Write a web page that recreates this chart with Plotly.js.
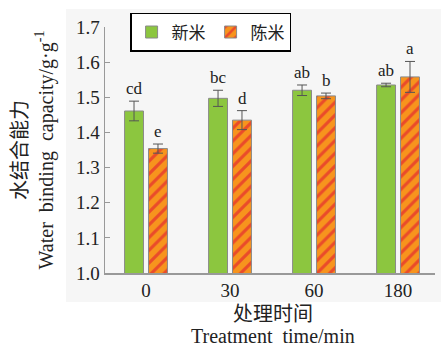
<!DOCTYPE html>
<html>
<head>
<meta charset="utf-8">
<script src="https://cdn.plot.ly/plotly-3.0.1.min.js"></script>
<style>html,body{margin:0;padding:0;background:#fff;}#chart{width:441px;height:348px;}</style>
</head>
<body>
<div id="chart"></div>
<script>
const categories = ['0', '30', '60', '180'];
const seriesNames = ['新米', '陈米'];
const freshValues = [1.461, 1.497, 1.520, 1.535];
const freshErrors = [0.028, 0.023, 0.015, 0.005];
const agedValues = [1.354, 1.435, 1.504, 1.558];
const agedErrors = [0.013, 0.027, 0.008, 0.044];
const freshLetters = ['cd', 'bc', 'ab', 'ab'];
const agedLetters = ['e', 'd', 'b', 'a'];
const yTicks = [1.0, 1.1, 1.2, 1.3, 1.4, 1.5, 1.6, 1.7];
const xTitleLines = ['处理时间', 'Treatment  time/min'];

const serif = 'Liberation Serif, Times New Roman, Noto Sans CJK SC, serif';

const traces = [
  {
    type: 'bar', name: seriesNames[0], x: categories, y: freshValues,
    marker: {color: '#8cc63f', line: {color: '#8a8a8a', width: 1}},
    error_y: {type: 'data', array: freshErrors, visible: true, color: '#555', thickness: 1, width: 5}
  },
  {
    type: 'bar', name: seriesNames[1], x: categories, y: agedValues,
    marker: {color: '#f7941d', line: {color: '#8a8a8a', width: 1},
      pattern: {shape: '/', fgcolor: '#ea4b2a', bgcolor: '#f7941d', size: 9, solidity: 0.35}},
    error_y: {type: 'data', array: agedErrors, visible: true, color: '#555', thickness: 1, width: 5}
  }
];

const annotations = [];
categories.forEach((c, i) => {
  annotations.push({x: i, y: freshValues[i] + freshErrors[i], xref: 'x', yref: 'y', text: freshLetters[i],
    showarrow: false, xshift: -12, yshift: 1, yanchor: 'bottom', font: {family: serif, size: 17, color: '#222'}});
  annotations.push({x: i, y: agedValues[i] + agedErrors[i], xref: 'x', yref: 'y', text: agedLetters[i],
    showarrow: false, xshift: 12, yshift: 1, yanchor: 'bottom', font: {family: serif, size: 17, color: '#222'}});
});
// x-axis title (two lines)
annotations.push({x: 0.51, y: -0.166, xref: 'paper', yref: 'paper', text: xTitleLines[0], showarrow: false,
  xanchor: 'center', yanchor: 'middle', font: {family: serif, size: 20, color: '#222'}});
annotations.push({x: 0.51, y: -0.258, xref: 'paper', yref: 'paper', text: xTitleLines[1], showarrow: false,
  xanchor: 'center', yanchor: 'middle', font: {family: serif, size: 20, color: '#222'}});

const layout = {
  width: 441, height: 348,
  margin: {l: 105, r: 6, t: 27, b: 75},
  paper_bgcolor: '#ffffff',
  plot_bgcolor: 'rgba(0,0,0,0)',
  barmode: 'group', bargap: 0.43, bargroupgap: 0.21,
  showlegend: true,
  legend: {orientation: 'h', x: 0.076, y: 1.057, xanchor: 'left', yanchor: 'top',
    bgcolor: '#ffffff', bordercolor: '#000', borderwidth: 1.5,
    font: {family: 'Noto Sans CJK SC, sans-serif', size: 17, color: '#222'},
    itemwidth: 30, tracegroupgap: 0},
  xaxis: {
    type: 'category', range: [-0.488, 3.44],
    showline: true, linecolor: '#999', linewidth: 1.5, ticks: '', showgrid: false, zeroline: false,
    tickfont: {family: serif, size: 19, color: '#222'}
  },
  yaxis: {
    range: [1.0, 1.7], tickvals: yTicks, ticktext: yTicks.map(v => v.toFixed(1)),
    showline: true, linecolor: '#999', linewidth: 1.5, ticks: 'inside', ticklen: 5, tickcolor: '#999',
    showgrid: false, zeroline: false,
    tickfont: {family: serif, size: 19, color: '#222'},
    title: {text: '水结合能力<br>Water  binding  capacity/g·g<sup>-1</sup>', font: {family: serif, size: 20, color: '#222'}, standoff: 17}
  },
  shapes: [{type: 'rect', xref: 'paper', yref: 'paper', x0: -0.118, x1: 1.02, y0: -0.118, y1: 1.073,
    fillcolor: '#f6f6f6', line: {width: 0}, layer: 'below'}],
  annotations: annotations
};

Plotly.newPlot('chart', traces, layout, {displayModeBar: false, staticPlot: true});
</script>
</body>
</html>
